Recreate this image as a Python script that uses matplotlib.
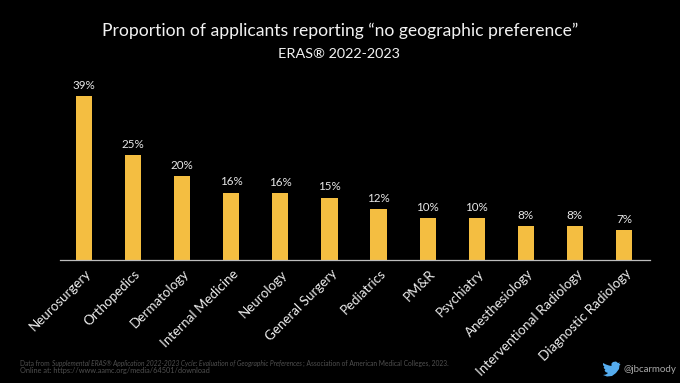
import matplotlib
matplotlib.use('Agg')
import matplotlib.pyplot as plt
from matplotlib.path import Path
from matplotlib.patches import PathPatch

specialties = ['Neurosurgery', 'Orthopedics', 'Dermatology', 'Internal Medicine', 'Neurology',
               'General Surgery', 'Pediatrics', 'PM&R', 'Psychiatry', 'Anesthesiology',
               'Interventional Radiology', 'Diagnostic Radiology']
values = [39, 25, 20, 16, 16, 15, 12, 10, 10, 8, 8, 7]
# height of the drawn bars, a little off the rounded labels
heights = [39, 25, 20, 16.0, 15.9, 14.8, 12, 10, 9.9, 8.0, 8.0, 7.0]

W, H = 680, 383
plt.rcParams['font.family'] = ['Lato', 'DejaVu Sans']

fig = plt.figure(figsize=(W / 100, H / 100), dpi=100, facecolor='black')
# baseline at y=259.5 px, 4.18 px per percent
ax = fig.add_axes([60 / W, (H - 259.5) / H, 590 / W, 188 / H], facecolor='black')
x = list(range(len(values)))
ax.bar(x, heights, width=0.33, color='#F4BE41')
ax.set_xlim(-0.489, 11.53)
ax.set_ylim(0, 188 / 4.18)

for s in ['top', 'left', 'right']:
    ax.spines[s].set_visible(False)
ax.spines['bottom'].set_color('#BDBDBD')
ax.spines['bottom'].set_linewidth(0.9)
ax.set_yticks([])
ax.set_xticks([])

# category labels as annotations, they sit a bit right of the bar centre
for xi, name in zip(x, specialties):
    ax.annotate(name, (xi, 0), xytext=(1, -8), textcoords='offset pixels', rotation=45,
                ha='right', va='top', rotation_mode='anchor', fontsize=9.6,
                color='#EDEDED', annotation_clip=False)

for xi, h, v in zip(x, heights, values):
    ax.annotate(f'{v}%', (xi, h), xytext=(0, 3.7), textcoords='offset points',
                ha='center', va='bottom', fontsize=8.4, color='#E8E8E8')

fig.text(340 / W, 1 - 31 / H, 'Proportion of applicants reporting \u201cno geographic preference\u201d',
         ha='center', va='center', fontsize=12.6, color='#F2F2F2')
fig.text(339 / W, 1 - 54 / H, 'ERAS\u00ae 2022-2023',
         ha='center', va='center', fontsize=10.4, color='#F2F2F2')

# footer line has an italic middle part, so it is three texts set end to end
footer = [('Data from ', 'normal'),
          ('Supplemental ERAS\u00ae Application 2022-2023 Cycle: Evaluation of Geographic Preferences', 'italic'),
          ('; Association of American Medical Colleges, 2023.', 'normal')]
renderer = fig.canvas.get_renderer()
px = 20
for part, style in footer:
    t = fig.text(px / W, 1 - 366 / H, part, ha='left', va='baseline', fontsize=4.8,
                 style=style, color='#505050')
    px += t.get_window_extent(renderer).width + 1
fig.text(20 / W, 1 - 373.5 / H, 'Online at: https://www.aamc.org/media/64501/download',
         ha='left', va='baseline', fontsize=5.3, color='#505050')

fig.text(676 / W, 1 - 370 / H, '@jbcarmody', ha='right', va='center', fontsize=7, color='#A8A8A8')

# twitter bird, rough outline in pixels
bird = [(603, 363), (606, 364.5), (609, 365.5), (611.5, 366), (611.5, 363.5), (613, 362), (616, 361.5),
        (618, 363), (620, 362.5), (619, 364), (620.5, 364), (619.5, 365.5),
        (619, 369), (616, 373), (612, 376), (607, 376.5), (603, 375),
        (606, 374.5), (608, 373), (605.5, 372), (604.5, 370), (605.5, 370),
        (603.8, 368), (603.8, 367), (604.5, 367), (603, 365), (603, 363)]
bird_path = Path([(bx / W, 1 - by / H) for bx, by in bird])
fig.add_artist(PathPatch(bird_path, facecolor='#55ACEE', edgecolor='none', transform=fig.transFigure))

fig.savefig('out.png', dpi=100, facecolor='black')
